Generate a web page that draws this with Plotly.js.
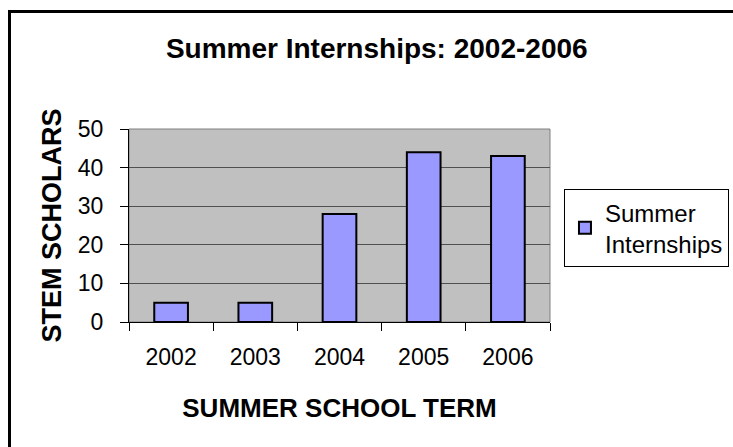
<!DOCTYPE html>
<html>
<head>
<meta charset="utf-8">
<script src="https://cdn.plot.ly/plotly-3.0.1.min.js"></script>
<style>
html,body{margin:0;padding:0;background:#fff;}
#wrap{position:relative;width:733px;height:447px;overflow:hidden;}
#chart{position:absolute;left:0;top:0;width:733px;height:447px;}
#frame{position:absolute;left:8px;top:10px;width:740px;height:450px;border-top:3px solid #000;border-left:3px solid #000;pointer-events:none;}
</style>
</head>
<body>
<div id="wrap"><div id="chart"></div><div id="frame"></div></div>
<script>
const years = ['2002', '2003', '2004', '2005', '2006'];
const internships = [5, 5, 28, 44, 43];
const seriesName = 'Summer<br>Internships';
const yTicks = [0, 10, 20, 30, 40, 50];

const FONT = 'Liberation Sans, Arial, sans-serif';

const trace = {
  type: 'bar',
  x: years,
  y: internships,
  name: seriesName,
  showlegend: true,
  marker: {color: '#9999FF', line: {color: '#000000', width: 2}},
  hoverinfo: 'x+y'
};

const layout = {
  width: 733,
  height: 447,
  margin: {l: 129, r: 183, t: 129, b: 125},
  paper_bgcolor: '#ffffff',
  plot_bgcolor: '#C0C0C0',
  font: {family: FONT, size: 23, color: '#000'},
  bargap: 0.6,
  title: {
    text: '<b>Summer Internships: 2002-2006</b>',
    font: {family: FONT, size: 28, color: '#000'},
    xref: 'container', x: 0.514, xanchor: 'center',
    yref: 'container', y: 0.893, yanchor: 'middle'
  },
  xaxis: {
    type: 'category',
    tickson: 'boundaries',
    ticks: 'outside', ticklen: 8, tickcolor: '#000', tickwidth: 1,
    ticklabelstandoff: 14,
    showline: true, linecolor: '#000', linewidth: 1,
    showgrid: false,
    tickfont: {family: FONT, size: 23, color: '#000'},
    title: {text: '<b>SUMMER SCHOOL TERM</b>', font: {family: FONT, size: 26, color: '#000'}, standoff: 30}
  },
  yaxis: {
    range: [0, 50],
    tickvals: yTicks,
    ticktext: yTicks.map(String),
    ticks: 'outside', ticklen: 8, tickcolor: '#000', tickwidth: 1,
    ticklabelstandoff: 12,
    showline: true, linecolor: '#000', linewidth: 1,
    showgrid: true, gridcolor: '#505050', gridwidth: 1.2,
    zeroline: false,
    tickfont: {family: FONT, size: 23, color: '#000'},
    title: {text: '<b>STEM SCHOLARS</b>', font: {family: FONT, size: 27, color: '#000'}, standoff: 8}
  },
  shapes: [{
    type: 'rect', xref: 'paper', yref: 'paper', x0: 0, x1: 1, y0: 0, y1: 1,
    line: {color: '#808080', width: 1}, layer: 'below'
  }],
  legend: {
    xref: 'container', x: 0.7694, xanchor: 'left',
    yref: 'container', y: 0.577, yanchor: 'top',
    bgcolor: '#ffffff',
    bordercolor: '#000000', borderwidth: 1,
    font: {family: FONT, size: 24, color: '#000'},
    itemwidth: 30
  },
  showlegend: true
};

Plotly.newPlot('chart', [trace], layout, {displayModeBar: false, staticPlot: true});
</script>
</body>
</html>
